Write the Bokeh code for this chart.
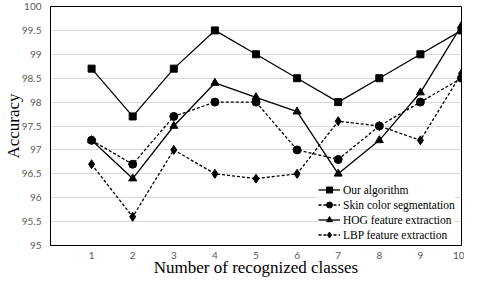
from bokeh.plotting import figure
from bokeh.models import FixedTicker, Range1d, Legend, LegendItem, CustomJSTickFormatter
from bokeh.embed import file_html
from bokeh.resources import INLINE

classes = [1, 2, 3, 4, 5, 6, 7, 8, 9, 10]
our_algorithm = [98.7, 97.7, 98.7, 99.5, 99.0, 98.5, 98.0, 98.5, 99.0, 99.5]
skin_color = [97.2, 96.7, 97.7, 98.0, 98.0, 97.0, 96.8, 97.5, 98.0, 98.5]
hog_feature = [97.2, 96.4, 97.5, 98.4, 98.1, 97.8, 96.5, 97.2, 98.2, 99.6]
lbp_feature = [96.7, 95.6, 97.0, 96.5, 96.4, 96.5, 97.6, 97.5, 97.2, 98.6]
y_ticks = [95, 95.5, 96, 96.5, 97, 97.5, 98, 98.5, 99, 99.5, 100]
series_names = ["Our algorithm", "Skin color segmentation", "HOG feature extraction", "LBP feature extraction"]

p = figure(width=464, height=279, output_backend="svg", toolbar_location=None,
           x_range=Range1d(0, 10), y_range=Range1d(95, 100),
           min_border_left=0, min_border_right=3, min_border_top=6, min_border_bottom=0)

p.outline_line_color = "black"
p.outline_line_width = 1
p.xgrid.grid_line_color = None
p.ygrid.grid_line_color = "#d9d9d9"
p.ygrid.grid_line_width = 1

p.xaxis.ticker = FixedTicker(ticks=classes)
p.yaxis.ticker = FixedTicker(ticks=y_ticks)
p.yaxis.formatter = CustomJSTickFormatter(code="return tick.toString();")
for ax in (p.xaxis, p.yaxis):
    ax.major_tick_line_color = None
    ax.minor_tick_line_color = None
    ax.major_tick_out = 0
    ax.major_tick_in = 0
    ax.axis_line_color = "black"
    ax.major_label_text_font = "Lato"
    ax.major_label_text_font_size = "10px"
    ax.major_label_text_color = "#595959"
    ax.major_label_text_line_height = 1.0
    ax.axis_label_text_font = "Liberation Serif"
    ax.axis_label_text_font_size = "17px"
    ax.axis_label_text_font_style = "normal"
    ax.axis_label_text_color = "black"
    ax.axis_label_text_line_height = 1.0
p.xaxis.axis_label = "Number of recognized classes"
p.yaxis.axis_label = "Accuracy"
p.xaxis.major_label_standoff = 6
p.xaxis.axis_label_standoff = -4
p.yaxis.major_label_standoff = 9
p.yaxis.axis_label_standoff = -4

lw = 1.3
dash = "3 2"
items = []
specs = [
    (our_algorithm, "solid", "square", 7),
    (skin_color, dash, "circle", 8),
    (hog_feature, "solid", "triangle", 8),
    (lbp_feature, dash, "diamond", 9),
]
for name, (vals, ld, mk, sz) in zip(series_names, specs):
    r1 = p.line(classes, vals, line_color="black", line_width=lw, line_dash=ld)
    r2 = p.scatter(classes, vals, marker=mk, size=sz, fill_color="black", line_color="black")
    items.append(LegendItem(label=name, renderers=[r1, r2]))

legend = Legend(items=items, location=(268, 3), padding=4, spacing=0, margin=0,
                glyph_height=15, label_height=15, glyph_width=22, label_standoff=3,
                label_text_font="Liberation Serif", label_text_font_size="11.5px",
                label_text_color="black", border_line_color=None,
                background_fill_color="white", background_fill_alpha=1)
p.add_layout(legend, "center")

open("out.html", "w").write(file_html(p, INLINE))
